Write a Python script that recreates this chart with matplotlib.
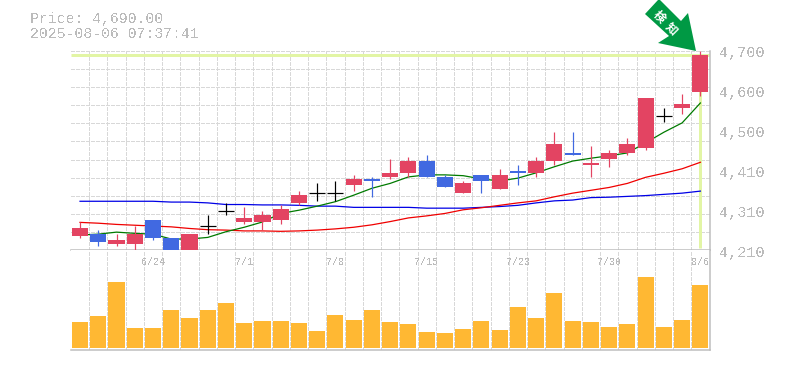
"""Candlestick chart with moving averages and a volume panel."""
import numpy as np
import matplotlib
matplotlib.use("Agg")
import matplotlib.pyplot as plt
from matplotlib.patches import Polygon

opens = [4245, 4250, 4225, 4225, 4285, 4240, 4208, 4270, 4305, 4280, 4280, 4285,
         4325, 4350, 4350, 4370, 4385, 4390, 4400, 4430, 4390, 4350, 4395, 4360,
         4405, 4400, 4430, 4450, 4420, 4435, 4450, 4460, 4540, 4560, 4600]
closes = [4265, 4230, 4235, 4250, 4240, 4208, 4250, 4270, 4305, 4290, 4295, 4310,
          4345, 4350, 4350, 4385, 4380, 4400, 4430, 4390, 4365, 4375, 4380, 4395,
          4400, 4430, 4470, 4445, 4425, 4450, 4470, 4585, 4540, 4570, 4690]
highs = [4280, 4260, 4250, 4270, 4285, 4240, 4250, 4295, 4325, 4315, 4305, 4320,
         4355, 4375, 4380, 4395, 4390, 4435, 4440, 4445, 4395, 4380, 4395, 4410,
         4420, 4440, 4500, 4500, 4465, 4455, 4485, 4585, 4560, 4595, 4700]
lows = [4240, 4220, 4220, 4208, 4235, 4208, 4208, 4250, 4295, 4275, 4260, 4275,
        4320, 4330, 4330, 4355, 4340, 4385, 4390, 4390, 4365, 4350, 4350, 4360,
        4370, 4390, 4420, 4445, 4390, 4415, 4445, 4455, 4525, 4545, 4590]
ma_short = [4247, 4249, 4254, 4251, 4249, 4237, 4237, 4241, 4255, 4266, 4279, 4300,
            4308, 4318, 4329, 4345, 4362, 4374, 4390, 4395, 4395, 4393, 4385, 4380,
            4387, 4400, 4415, 4429, 4436, 4442, 4449, 4474, 4500, 4523, 4572]
ma_mid = [4278, 4276, 4273, 4271, 4269, 4267, 4263, 4260, 4259, 4257, 4257, 4256,
          4257, 4259, 4262, 4266, 4272, 4280, 4289, 4294, 4300, 4309, 4314, 4320,
          4326, 4331, 4341, 4350, 4357, 4364, 4374, 4389, 4399, 4410, 4426]
ma_long = [4330, 4330, 4330, 4330, 4330, 4328, 4328, 4326, 4322, 4322, 4321, 4321,
           4320, 4318, 4318, 4315, 4315, 4315, 4315, 4313, 4313, 4313, 4315, 4317,
           4320, 4326, 4331, 4333, 4339, 4340, 4342, 4344, 4347, 4350, 4355]
volumes = [26, 32, 66, 20, 20, 38, 30, 38, 45, 25, 27, 27, 25, 17, 33, 28, 38, 26,
           24, 16, 15, 19, 27, 18, 41, 30, 55, 27, 26, 21, 24, 71, 21, 28, 63]
date_pos = [4, 9, 14, 19, 24, 29, 34]
date_labels = ["6/24", "7/1", "7/8", "7/15", "7/23", "7/30", "8/6"]
price_labels = ["4,700", "4,600", "4,500", "4,410", "4,310", "4,210"]
last_price = 4690

UP = "#e34462"
DOWN = "#4169e1"
GRID = "#d8d8d8"
EDGE = "#bdbdbd"
TEXT = "#bbbbbb"
MONO = "Liberation Mono"
W, H = 785, 370
PX = 0.72  # one pixel in points at dpi 100


def px_axes(fig, left, top, right, bottom):
    return fig.add_axes([left / W, 1 - bottom / H, (right - left) / W, (bottom - top) / H])


fig = plt.figure(figsize=(W / 100, H / 100), dpi=100)
ax = px_axes(fig, 70.9, 51, 709.5, 250)
vol = px_axes(fig, 70.9, 250, 709.5, 350)
x = np.arange(len(closes))

for a in (ax, vol):
    a.set_xlim(-0.5, len(closes) - 0.5)
    a.set_xticks(x[:-1] + 0.5)
    a.tick_params(length=0, labelbottom=False, labelleft=False)
    a.grid(axis="x", color=GRID, lw=PX, ls=(0, (4, 2)), antialiased=False)
    a.set_axisbelow(True)
    for s in a.spines.values():
        s.set_visible(False)
    for side in ("bottom", "right"):
        a.spines[side].set_visible(True)
        a.spines[side].set_color(EDGE)
        a.spines[side].set_linewidth(1.5 * PX)

# price panel
ax.set_ylim(4210, 4700)
ax.set_yticks(np.linspace(4210, 4700, 12))
ax.grid(axis="y", color=GRID, lw=PX, ls=(0, (4, 2)), antialiased=False)
ax.hlines(last_price, -0.5, len(closes) - 0.5, color="#e2f5a5", lw=3 * PX, zorder=1)
ax.vlines(x[-1], 4215, last_price, color="#e2f5a5", lw=3 * PX, zorder=1)

ax.plot(x, ma_long, color="#0000e6", lw=1.25 * PX, zorder=2)
ax.plot(x, ma_mid, color="#f00000", lw=1.25 * PX, zorder=2)
ax.plot(x, ma_short, color="#007a00", lw=1.25 * PX, zorder=2)

for i in x:
    o, c = opens[i], closes[i]
    col = UP if c > o else DOWN if c < o else "black"
    ax.vlines(i, lows[i], highs[i], color=col, lw=1.2 * PX, zorder=3, clip_on=False)
    if c == o:
        ax.hlines(c, i - 0.44, i + 0.44, color=col, lw=1.2 * PX, zorder=3)
    else:
        ax.bar(i, abs(c - o), bottom=min(o, c), width=0.88, color=col, lw=0, zorder=3,
               clip_on=False)

# volume panel
vol.set_ylim(-2, 98)
vol.set_yticks([])
vol.bar(x, volumes, width=0.88, color="#ffb833", lw=0, zorder=3)
for p, lab in zip(date_pos, date_labels):
    vol.text(p, 86, lab, color=TEXT, family=MONO, fontsize=7.2, ha="center", va="center",
             zorder=4, antialiased=False)

# pixel overlay for header, price labels and marker arrow
over = fig.add_axes([0, 0, 1, 1])
over.set_xlim(0, W)
over.set_ylim(H, 0)
over.axis("off")
over.patch.set_alpha(0)
over.text(30, 18.5, "Price: 4,690.00", color=TEXT, family=MONO, fontsize=10.7, va="center",
          antialiased=False)
over.text(30, 33.5, "2025-08-06 07:37:41", color=TEXT, family=MONO, fontsize=10.7, va="center",
          antialiased=False)
for lab, y in zip(price_labels, np.linspace(53, 253, 6)):
    over.text(719.5, y, lab, color=TEXT, family=MONO, fontsize=10.9, va="center",
              antialiased=False)

arrow = [(658, 0), (645, 14), (669, 36), (658, 43), (696, 51), (688, 13), (681, 21), (660, 0)]
over.add_patch(Polygon(arrow, closed=True, facecolor="#009944", edgecolor="none", clip_on=False))
over.text(659.5, 16.5, "検", color="white", family="Noto Sans CJK JP", fontsize=8.5, weight="bold",
          rotation=-45, ha="center", va="center")
over.text(671.5, 28.5, "知", color="white", family="Noto Sans CJK JP", fontsize=8.5, weight="bold",
          rotation=-45, ha="center", va="center")

fig.savefig("out.png", dpi=100)
